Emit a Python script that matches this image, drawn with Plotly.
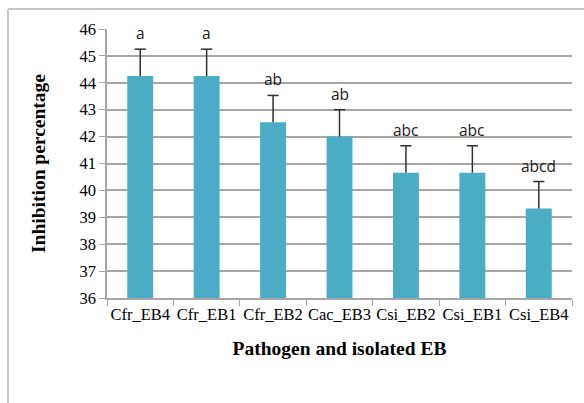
import plotly.graph_objects as go

categories = ["Cfr_EB4", "Cfr_EB1", "Cfr_EB2", "Cac_EB3", "Csi_EB2", "Csi_EB1", "Csi_EB4"]
values = [44.25, 44.25, 42.53, 42.0, 40.66, 40.66, 39.33]
errors = [1.0, 1.0, 1.0, 1.0, 1.0, 1.0, 1.0]
letters = ["a", "a", "ab", "ab", "abc", "abc", "abcd"]
y_ticks = [36, 37, 38, 39, 40, 41, 42, 43, 44, 45, 46]

tops = [v + e for v, e in zip(values, errors)]

fig = go.Figure()
fig.add_trace(go.Bar(
    x=categories, y=values,
    marker=dict(color="#4BACC6", line=dict(width=0)),
    error_y=dict(type="data", array=errors, arrayminus=[0] * len(errors), symmetric=False,
                 color="#303030", thickness=1.5, width=0),
    width=0.39,
))
# caps at the top of the error bars
fig.add_trace(go.Scatter(
    x=categories, y=tops, mode="markers",
    marker=dict(symbol="line-ew", size=8, line=dict(color="#303030", width=1.5)),
    cliponaxis=False, showlegend=False, hoverinfo="skip",
))

annotations = [
    dict(x=c, y=t, xref="x", yref="y", text=l, showarrow=False, yanchor="bottom", yshift=3,
         font=dict(family="Open Sans", size=15.5, color="#1a1a1a"))
    for c, t, l in zip(categories, tops, letters)
]

grey = "#A6A6A6"
fig.update_layout(
    width=584, height=403,
    margin=dict(l=107, r=12, t=29, b=105, autoexpand=False),
    paper_bgcolor="white", plot_bgcolor="white",
    showlegend=False,
    font=dict(family="Liberation Serif", color="black"),
    annotations=annotations,
    shapes=[
        dict(type="line", xref="paper", yref="paper", x0=-0.213, x1=1.1, y0=1.074, y1=1.074,
             line=dict(color="#C8C8C8", width=2)),
        dict(type="line", xref="paper", yref="paper", x0=-0.213, x1=-0.213, y0=1.074, y1=-0.5,
             line=dict(color="#C8C8C8", width=2)),
    ],
)
fig.update_xaxes(
    automargin=False,
    showline=True, linecolor=grey, linewidth=1.5,
    ticks="outside", ticklen=6, tickcolor=grey, tickson="boundaries",
    tickangle=0,
    tickfont=dict(family="Liberation Serif", size=16.5, color="black"),
    title=dict(text="<b>Pathogen and isolated EB</b>", font=dict(family="Liberation Serif", size=19.5), standoff=19),
    showgrid=False,
)
fig.update_yaxes(
    automargin=False,
    range=[36, 46], tickvals=y_ticks,
    showline=True, linecolor=grey, linewidth=1.5,
    ticks="outside", ticklen=6, tickcolor=grey,
    showgrid=True, gridcolor=grey, gridwidth=1.5,
    tickfont=dict(family="Liberation Serif", size=16.5, color="black"),
    title=dict(text="<b>Inhibition percentage</b>", font=dict(family="Liberation Serif", size=19.5), standoff=29),
    zeroline=False,
)
fig.write_html("out.html", config={"displayModeBar": False},
               post_script="document.body.style.margin='0';document.body.style.overflow='hidden';")
